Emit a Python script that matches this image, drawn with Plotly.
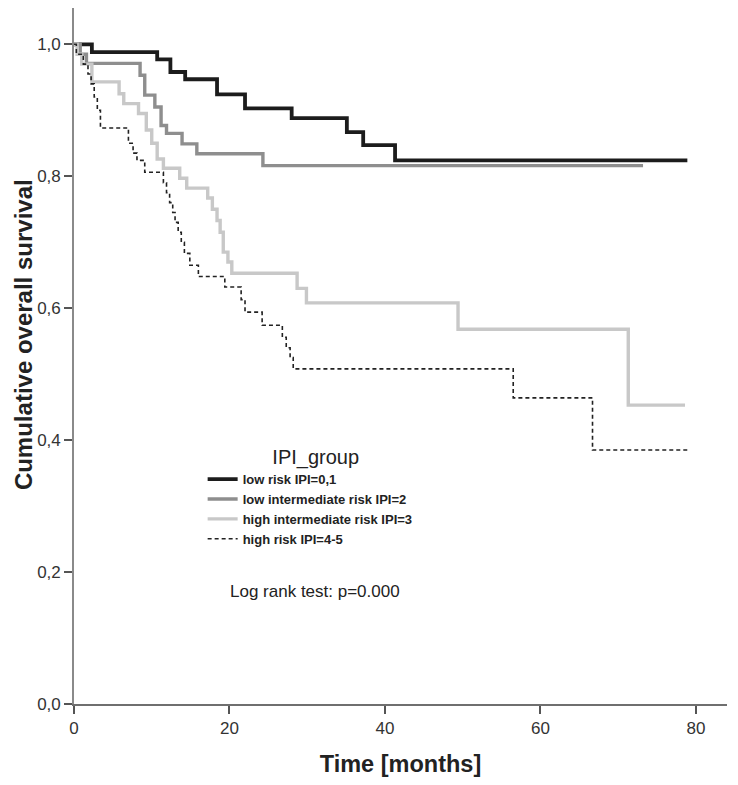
import plotly.graph_objects as go

# ---- data ----
groups = ["low risk IPI=0,1", "low intermediate risk IPI=2",
          "high intermediate risk IPI=3", "high risk IPI=4-5"]

t_low = [0, 2.3, 10.7, 12.4, 14.3, 18.4, 22.0, 28.0, 35.1, 37.2, 41.3, 78.9]
s_low = [1.0, 0.988, 0.977, 0.958, 0.947, 0.924, 0.903, 0.888, 0.867, 0.847, 0.824, 0.824]

t_lowint = [0, 0.8, 1.6, 8.5, 9.1, 10.4, 11.2, 11.9, 13.9, 15.8, 24.3, 73.2]
s_lowint = [1.0, 0.985, 0.971, 0.953, 0.923, 0.905, 0.877, 0.865, 0.849, 0.834, 0.816, 0.816]

t_highint = [0, 0.4, 1.0, 2.3, 5.8, 6.4, 8.3, 9.3, 10.0, 10.7, 11.5, 13.6, 14.5,
             17.2, 17.8, 18.4, 18.8, 19.2, 19.8, 20.3, 28.7, 29.9, 49.4, 71.3, 78.6]
s_highint = [1.0, 0.985, 0.97, 0.943, 0.925, 0.91, 0.895, 0.87, 0.85, 0.826, 0.812, 0.797, 0.782,
             0.767, 0.75, 0.733, 0.715, 0.685, 0.67, 0.653, 0.630, 0.608, 0.568, 0.453, 0.453]

t_high = [0, 0.3, 1.2, 1.8, 2.2, 2.6, 3.0, 3.4, 7.0, 7.6, 8.1, 9.1,
          11.5, 11.9, 12.3, 12.7, 13.0, 13.4, 13.8, 14.2, 14.9, 16.0, 19.4,
          21.5, 22.0, 24.2, 26.8, 27.3, 27.8, 28.2, 56.5, 66.7, 79.0]
s_high = [1.0, 0.985, 0.97, 0.955, 0.94, 0.92, 0.90, 0.873, 0.85, 0.835, 0.824, 0.806,
          0.79, 0.775, 0.76, 0.745, 0.73, 0.715, 0.70, 0.683, 0.665, 0.648, 0.632,
          0.613, 0.594, 0.574, 0.556, 0.54, 0.525, 0.508, 0.464, 0.385, 0.385]

x_ticks = [0, 20, 40, 60, 80]
y_ticks = [0.0, 0.2, 0.4, 0.6, 0.8, 1.0]
y_ticklabels = ["0,0", "0,2", "0,4", "0,6", "0,8", "1,0"]

# ---- styles ----
styles = [
    dict(color="#1c1c1c", width=3.8, dash="solid"),
    dict(color="#8e8e8e", width=3.4, dash="solid"),
    dict(color="#c8c8c8", width=3.4, dash="solid"),
    dict(color="#222222", width=1.6, dash="4px,3px"),
]

series = [(t_low, s_low), (t_lowint, s_lowint), (t_highint, s_highint), (t_high, s_high)]

fig = go.Figure()
for name, (t, s), st in zip(groups, series, styles):
    fig.add_trace(go.Scatter(x=t, y=s, mode="lines", name=name,
                             line=dict(shape="hv", **st)))

axis_font = "Liberation Sans, Arial, sans-serif"
fig.update_layout(
    width=730, height=777,
    margin=dict(l=66, r=11, t=0, b=81),
    paper_bgcolor="white", plot_bgcolor="white",
    font=dict(family=axis_font, color="#222222"),
    showlegend=True,
    legend=dict(
        x=0.197, y=0.382, xanchor="left", yanchor="top",
        bgcolor="rgba(0,0,0,0)",
        font=dict(family=axis_font, size=13, color="#222222", weight="bold"),
        title=dict(text="\u00a0\u00a0IPI_group", side="top center",
                   font=dict(family=axis_font, size=20, color="#222222", weight="normal")),
        tracegroupgap=0,
    ),
    xaxis=dict(
        range=[0, 84], tickvals=x_ticks, showgrid=False, zeroline=False,
        showline=True, linecolor="#6f6f6f", linewidth=1.6,
        ticks="outside", ticklen=8, tickwidth=1.6, tickcolor="#555555",
        tickfont=dict(size=17, color="#333333"),
        title=dict(text="Time [months]", standoff=18,
                   font=dict(size=23.5, color="#222222", weight="bold")),
    ),
    yaxis=dict(
        range=[0, 1.055], tickvals=y_ticks, ticktext=y_ticklabels,
        showgrid=False, zeroline=False,
        showline=True, linecolor="#8a8a8a", linewidth=1.6,
        ticks="outside", ticklen=8, tickwidth=1.6, tickcolor="#555555",
        tickfont=dict(size=17, color="#333333"),
    ),
    annotations=[
        dict(text="Log rank test: p=0.000", x=0.369, y=0.161,
             xref="paper", yref="paper", xanchor="center", yanchor="middle",
             showarrow=False, font=dict(size=17, color="#222222")),
        dict(text="Cumulative overall survival", x=-0.0781, y=0.530, textangle=-90,
             xref="paper", yref="paper", xanchor="center", yanchor="middle",
             showarrow=False, font=dict(size=24, color="#222222", weight="bold")),
    ],
)

fig.write_html("out.html")
